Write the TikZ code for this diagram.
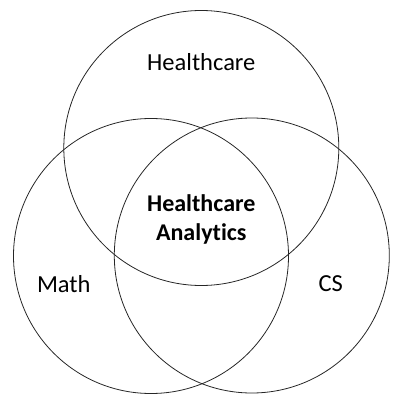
\documentclass[tikz,border=0pt]{standalone}
\usepackage{fontspec}
\setmainfont{Carlito}[Ligatures=NoCommon]

\begin{document}
\begin{tikzpicture}[
    x=1pt, y=-1pt,
    set/.style={circle, draw=black!85, line width=0.8pt, minimum size=275pt, inner sep=0pt},
    setlabel/.style={font=\fontsize{24.5}{29}\selectfont, anchor=base},
    core/.style={font=\fontsize{24}{29}\selectfont\bfseries, align=center}
]
    \useasboundingbox (0,0) rectangle (402,406);

    % Circles
    \node[set] (health) at (201.3,148) {};
    \node[set] (math)   at (151,256)   {};
    \node[set] (cs)     at (251.8,255.5) {};

    % Labels
    \node[setlabel] (healthlabel) at (201.3,70.7)  {Healthcare};
    \node[setlabel] (mathlabel)   at (63.8,292.7)  {Math};
    \node[setlabel] (cslabel)     at (330.8,291.7) {CS};

    % Intersection
    \node[core] (analytics) at (201.3,219) {Healthcare\\Analytics};
\end{tikzpicture}
\end{document}
